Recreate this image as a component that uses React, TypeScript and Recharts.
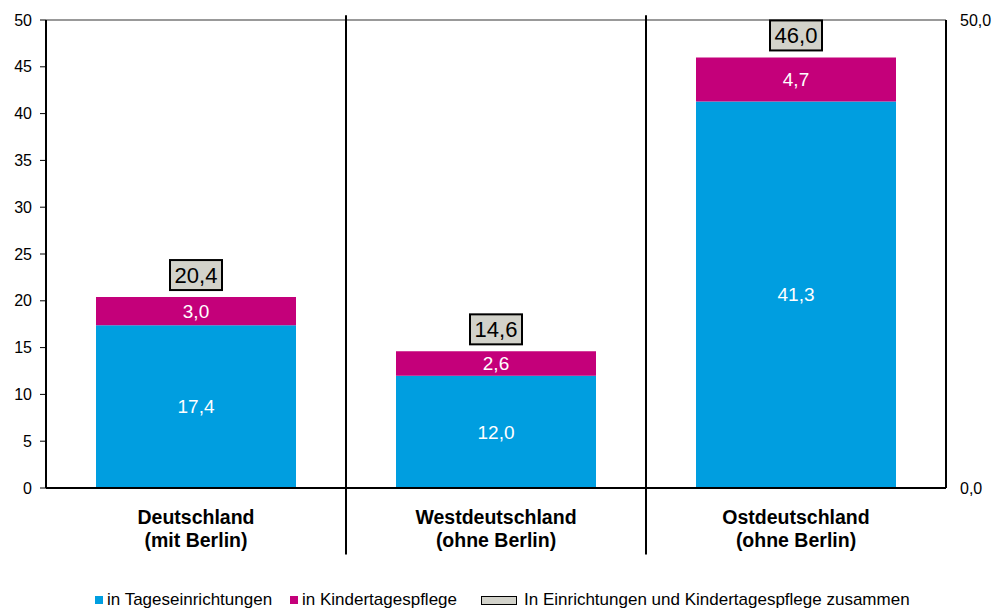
import React from 'react';
import {
  ComposedChart, Bar, Line, XAxis, YAxis, ReferenceLine, LabelList
} from 'recharts';

const regions = ['Deutschland', 'Westdeutschland', 'Ostdeutschland'];
const regionNotes = ['(mit Berlin)', '(ohne Berlin)', '(ohne Berlin)'];
const tageseinrichtungen = [17.4, 12.0, 41.3];
const kindertagespflege = [3.0, 2.6, 4.7];
const zusammen = [20.4, 14.6, 46.0];
const leftTicks = [0, 5, 10, 15, 20, 25, 30, 35, 40, 45, 50];
const rightTicks = [0, 50];

const data = regions.map((name, i) => ({
  name,
  note: regionNotes[i],
  tages: tageseinrichtungen[i],
  pflege: kindertagespflege[i],
  total: zusammen[i],
}));

const FONT = '"Liberation Sans", Arial, sans-serif';
const BLUE = '#009EE0';
const MAGENTA = '#C4007A';
const BOX = '#D2D2CA';

const fmt = (v: number) => Number(v).toFixed(1).replace('.', ',');

const RegionTick = (props: any) => {
  const { x, y, payload, index } = props;
  return (
    <g>
      <text x={x} y={y + 28} textAnchor="middle" fontFamily={FONT} fontSize={19.5} fontWeight="bold" fill="#000">
        {payload.value}
      </text>
      <text x={x} y={y + 51} textAnchor="middle" fontFamily={FONT} fontSize={19.5} fontWeight="bold" fill="#000">
        {regionNotes[index]}
      </text>
    </g>
  );
};

const TotalLabel = (props: any) => {
  const { x, y, width, value } = props;
  const cx = x + width / 2;
  const w = 52;
  const h = 30;
  return (
    <g>
      <rect x={cx - w / 2} y={y - h - 7} width={w} height={h} fill={BOX} stroke="#000" strokeWidth={2} />
      <text x={cx} y={y - 7 - h / 2} dy="0.36em" textAnchor="middle" fontFamily={FONT} fontSize={22} fill="#000">
        {fmt(value)}
      </text>
    </g>
  );
};

const legendText: React.CSSProperties = {
  position: 'absolute', top: 590, fontFamily: FONT, fontSize: 17, color: '#000', lineHeight: '20px', whiteSpace: 'nowrap',
};

export default function App() {
  return (
    <div style={{ position: 'absolute', left: 0, top: 0, width: 993, height: 610, background: '#fff' }}>
      <ComposedChart
        width={993}
        height={610}
        data={data}
        margin={{ top: 20, right: 0, left: 0, bottom: 0 }}
      >
        <XAxis
          dataKey="name"
          height={122}
          axisLine={{ stroke: '#000', strokeWidth: 2 }}
          tickLine={false}
          tick={<RegionTick />}
          interval={0}
        />
        <YAxis
          yAxisId="left"
          width={46}
          domain={[0, 50]}
          ticks={leftTicks}
          axisLine={{ stroke: '#000', strokeWidth: 2 }}
          tickLine={{ stroke: '#000' }}
          tickSize={6}
          tickMargin={8}
          tick={{ fontFamily: FONT, fontSize: 16, fill: '#000' }}
        />
        <YAxis
          yAxisId="right"
          orientation="right"
          width={47}
          type="number"
          domain={[0, 50]}
          ticks={rightTicks}
          axisLine={{ stroke: '#000', strokeWidth: 2 }}
          tickLine={false}
          tickSize={4}
          tickMargin={10}
          tickFormatter={(v: number) => fmt(v)}
          tick={{ fontFamily: FONT, fontSize: 16, fill: '#000' }}
        />
        <ReferenceLine yAxisId="left" y={50} stroke="#999" strokeWidth={2} />
        {regions.slice(1).map((r) => (
          <ReferenceLine
            key={r}
            yAxisId="left"
            segment={[{ x: r, y: 50.5 }, { x: r, y: -7.1 }]}
            position="start"
            ifOverflow="visible"
            stroke="#000"
            strokeWidth={2}
          />
        ))}
        <Bar yAxisId="left" dataKey="tages" stackId="a" fill={BLUE} barSize={200} isAnimationActive={false}>
          <LabelList dataKey="tages" position="center" fill="#fff" fontFamily={FONT} fontSize={19} formatter={(v: any) => fmt(v)} />
        </Bar>
        <Bar yAxisId="left" dataKey="pflege" stackId="a" fill={MAGENTA} barSize={200} isAnimationActive={false}>
          <LabelList dataKey="pflege" position="center" fill="#fff" fontFamily={FONT} fontSize={19} formatter={(v: any) => fmt(v)} />
          <LabelList dataKey="total" content={<TotalLabel />} />
        </Bar>
        {/* invisible series so the secondary axis gets a scale */}
        <Line
          yAxisId="right"
          dataKey="total"
          stroke="none"
          dot={false}
          activeDot={false}
          legendType="none"
          isAnimationActive={false}
        />
      </ComposedChart>
      <div style={{ position: 'absolute', left: 95, top: 596, width: 8, height: 8, background: BLUE }} />
      <div style={{ ...legendText, left: 107 }}>in Tageseinrichtungen</div>
      <div style={{ position: 'absolute', left: 290, top: 596, width: 8, height: 8, background: MAGENTA }} />
      <div style={{ ...legendText, left: 302 }}>in Kindertagespflege</div>
      <div style={{ position: 'absolute', left: 481, top: 596, width: 34, height: 7, background: BOX, border: '1.5px solid #000' }} />
      <div style={{ ...legendText, left: 524 }}>In Einrichtungen und Kindertagespflege zusammen</div>
    </div>
  );
}
